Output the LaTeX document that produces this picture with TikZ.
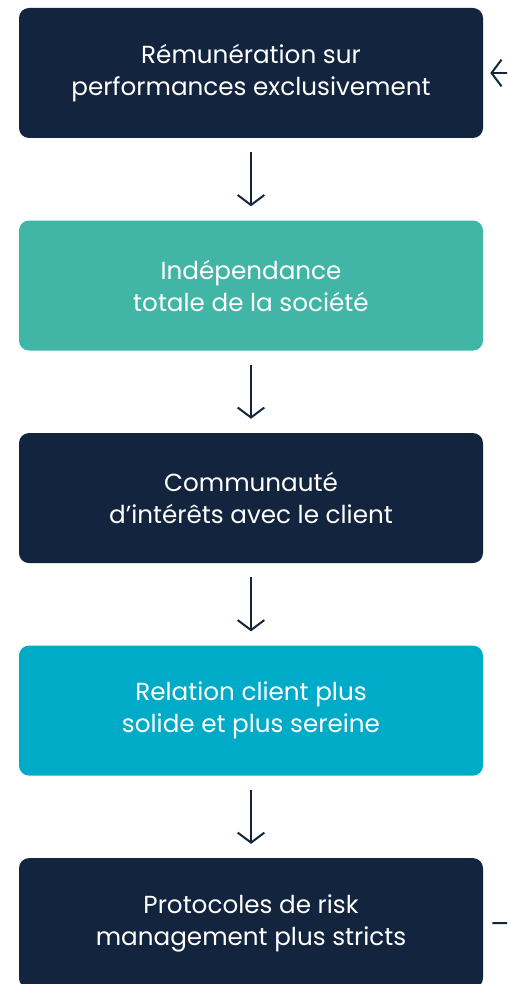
\documentclass[tikz,border=0pt]{standalone}
\usepackage{fontspec}
\setmainfont{Poppins}
\usetikzlibrary{positioning,arrows.meta}

\definecolor{boxnavy}{RGB}{19,36,63}
\definecolor{boxgreen}{RGB}{66,182,166}
\definecolor{boxcyan}{RGB}{0,171,199}

\tikzset{
  card/.style={rounded corners=7.5pt, minimum width=348pt, minimum height=97.5pt,
    inner sep=0pt, text=white, align=center, font=\fontsize{18.5}{24}\selectfont},
  flow/.style={draw=boxnavy, line width=1.5pt,
    -{Straight Barb[length=7.5pt,width=20pt,line width=1.5pt]},
    shorten <=10.5pt, shorten >=10.5pt}
}

\begin{document}
\begin{tikzpicture}[x=0.75pt,y=-0.75pt, node distance=61.5pt]
    \clip (0,0) rectangle (507,984);

    \node[card, fill=boxnavy] (remun) at (251,73) {Rémunération sur\\performances exclusivement};
    \node[card, fill=boxgreen, below=of remun] (indep) {Indépendance\\totale de la société};
    \node[card, fill=boxnavy, below=of indep] (commu) {Communauté\\d’intérêts avec le client};
    \node[card, fill=boxcyan, below=of commu] (relat) {Relation client plus\\solide et plus sereine};
    \node[card, fill=boxnavy, below=of relat] (risk) {Protocoles de risk\\management plus stricts};

    \draw[flow] (remun) -- (indep);
    \draw[flow] (indep) -- (commu);
    \draw[flow] (commu) -- (relat);
    \draw[flow] (relat) -- (risk);

    \coordinate (retour) at (560,73);
    \coordinate (sortie) at (560,923);
    \draw[flow, shorten >=5.25pt] (retour) -- (remun.east);
    \draw[draw=boxnavy, line width=1.5pt, shorten <=6.75pt] (risk.east) -- (sortie);
\end{tikzpicture}
\end{document}
